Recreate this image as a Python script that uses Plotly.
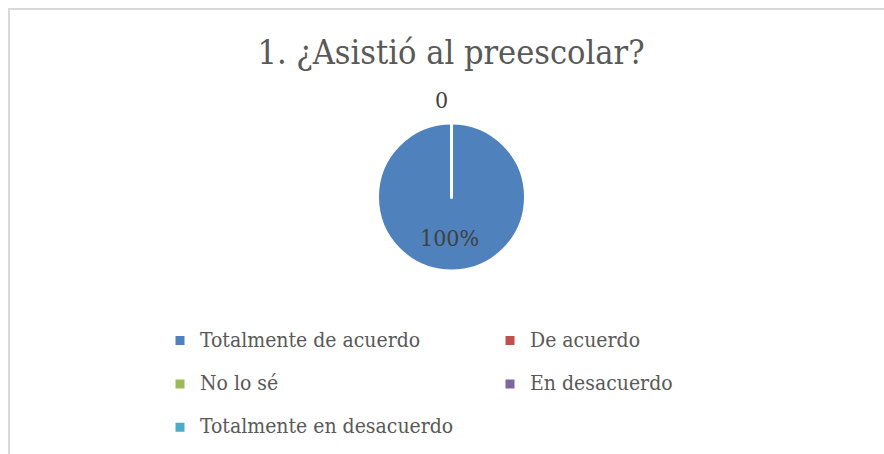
import plotly.graph_objects as go

categories = ["Totalmente de acuerdo", "De acuerdo", "No lo sé", "En desacuerdo", "Totalmente en desacuerdo"]
values = [100, 0, 0, 0, 0]
colors = ["#4F81BD", "#C0504D", "#9BBB59", "#8064A2", "#4BACC6"]

W, H = 884, 454
FONT = "DejaVu Serif Condensed, Liberation Serif, serif"

# pie geometry (pixels)
CX, CY, R = 451.5, 197, 74
total = sum(values)

# legend label: visible text on first line, an invisible spacer line gives the row height
legend_labels = [f"<span style='font-size:21px'>{c}</span><br>\u00a0" for c in categories]

fig = go.Figure(go.Pie(
    labels=legend_labels,
    values=values,
    textinfo="none",
    marker=dict(colors=colors, line=dict(color="white", width=3)),
    sort=False,
    direction="clockwise",
    rotation=0,
    domain=dict(x=[(CX - R) / W, (CX + R) / W], y=[(H - CY - R) / H, (H - CY + R) / H]),
    hovertext=categories,
    hoverinfo="text+value",
))

annotations = []
zero_shown = False
for v in values:
    if v > 0:
        annotations.append(dict(text=f"{round(100 * v / total)}%", x=(CX - 2) / W, y=1 - (CY + 0.55 * R) / H,
                                xref="paper", yref="paper", showarrow=False,
                                xanchor="center", yanchor="middle",
                                font=dict(family=FONT, size=23, color="#404040")))
    elif not zero_shown:
        zero_shown = True
        annotations.append(dict(text=f"{v}", x=(CX - 10) / W, y=1 - (CY - R - 23) / H,
                                xref="paper", yref="paper", showarrow=False,
                                xanchor="center", yanchor="middle",
                                font=dict(family=FONT, size=23, color="#404040")))

fig.update_layout(
    width=W, height=H,
    margin=dict(l=0, r=0, t=0, b=0, autoexpand=False),
    paper_bgcolor="white",
    font=dict(family=FONT, color="#595959"),
    title=dict(text="1. ¿Asistió al preescolar?", x=451 / W, xanchor="center",
               y=1 - 52 / H, yanchor="middle",
               font=dict(family=FONT, size=34, color="#595959")),
    showlegend=True,
    legend=dict(orientation="h", x=160 / W, xanchor="left", y=1 - 324 / H, yanchor="top",
                entrywidth=285, entrywidthmode="pixels", valign="top",
                font=dict(family=FONT, size=15.5, color="#595959"),
                itemwidth=30, bgcolor="rgba(0,0,0,0)"),
    annotations=annotations,
    shapes=[dict(type="rect", xref="paper", yref="paper",
                 x0=9 / W, x1=1.05, y0=-0.05, y1=1 - 9 / H,
                 line=dict(color="#D9D9D9", width=2), layer="below")],
)

fig.write_html("out.html", config={"displayModeBar": False},
               post_script="document.body.style.margin='0px';")
